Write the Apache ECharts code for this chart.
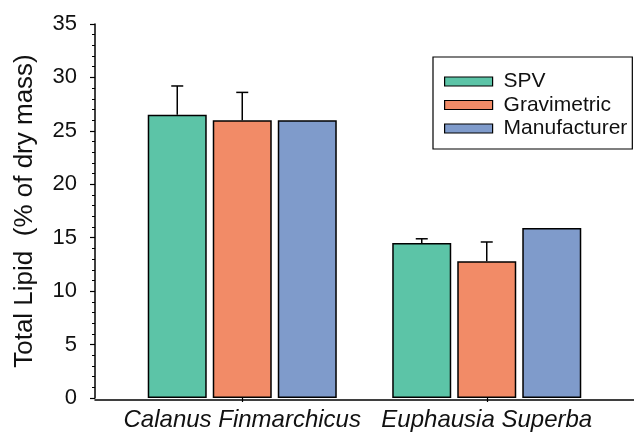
<!DOCTYPE html>
<html>
<head>
<meta charset="utf-8">
<script src="https://cdn.jsdelivr.net/npm/echarts@6/dist/echarts.min.js"></script>
<style>
html,body{margin:0;padding:0;background:#fff;}
#chart{width:634px;height:432px;}
</style>
</head>
<body>
<div id="chart"></div>
<script>
// ---- data ----
const categories = ['Calanus Finmarchicus', 'Euphausia Superba'];
const seriesNames = ['SPV', 'Gravimetric', 'Manufacturer'];
const spvValues = [26.5, 14.5];
const gravValues = [26.0, 12.8];
const manufValues = [26.0, 15.9];
const spvErrors = [2.7, 0.4];
const gravErrors = [2.6, 1.8];
const manufErrors = [null, null];
const yTicks = [0, 5, 10, 15, 20, 25, 30, 35];

// ---- styles ----
const FONT = '"Liberation Sans", Arial, Helvetica, sans-serif';
const colors = ['#5cc4a7', '#f28b67', '#7f9bcb'];
const BAR_W = 59;
const BAR_GAP_PX = 6;

const allValues = [spvValues, gravValues, manufValues];
const allErrors = [spvErrors, gravErrors, manufErrors];

const errData = [];
allValues.forEach((vals, s) => {
  vals.forEach((v, c) => {
    const e = allErrors[s][c];
    if (e != null) errData.push([c, v, v + e, s]);
  });
});

const chart = echarts.init(document.getElementById('chart'), null, {renderer: 'canvas'});

const option = {
  animation: false,
  backgroundColor: '#fff',
  textStyle: {fontFamily: FONT},
  grid: [
    {left: 120, right: 25, top: 24, bottom: 32, containLabel: false},
    {left: 95, right: 0, top: 24, bottom: 32, containLabel: false}
  ],
  xAxis: [
    {
      type: 'category',
      gridIndex: 0,
      data: categories,
      axisLine: {show: false},
      axisTick: {show: true, alignWithLabel: true, length: 4, lineStyle: {color: '#000', width: 1.2}},
      axisLabel: {
        interval: 0, hideOverlap: false,
        color: '#111', fontSize: 24, fontStyle: 'italic', fontFamily: FONT, margin: 10
      },
      splitLine: {show: false}
    },
    {
      type: 'value',
      gridIndex: 1,
      min: 0, max: 1,
      axisLine: {show: true, lineStyle: {color: '#000', width: 1.5}},
      axisTick: {show: false},
      axisLabel: {show: false},
      splitLine: {show: false}
    }
  ],
  yAxis: [
    {
      type: 'value',
      gridIndex: 0,
      min: yTicks[0],
      max: yTicks[yTicks.length - 1],
      interval: 5,
      offset: 25,
      name: 'Total Lipid  (% of dry mass)',
      nameLocation: 'middle',
      nameGap: 57,
      nameTextStyle: {color: '#111', fontSize: 26, fontFamily: FONT},
      axisLine: {show: true, lineStyle: {color: '#000', width: 1.5}},
      axisTick: {show: true, inside: false, length: 5, lineStyle: {color: '#000', width: 1.2}},
      minorTick: {show: true, splitNumber: 5, length: 3, lineStyle: {color: '#000', width: 1}},
      axisLabel: {color: '#111', fontSize: 22, fontFamily: FONT, margin: 18},
      splitLine: {show: false},
      minorSplitLine: {show: false}
    },
    {
      type: 'value',
      gridIndex: 1,
      min: 0, max: 1,
      show: false
    }
  ],
  legend: {
    orient: 'vertical',
    left: 433,
    top: 57,
    padding: [14, 5, 10, 11],
    itemGap: 2.5,
    itemWidth: 48,
    itemHeight: 9,
    borderColor: '#000',
    borderWidth: 1.2,
    borderRadius: 0,
    backgroundColor: '#fff',
    icon: 'rect',
    data: seriesNames,
    textStyle: {color: '#111', fontSize: 21, fontFamily: FONT, padding: [0, 0, 0, 6]},
    itemStyle: {borderColor: '#000', borderWidth: 1.2}
  },
  series: [
    ...seriesNames.map((name, s) => ({
      type: 'bar',
      name: name,
      xAxisIndex: 0,
      yAxisIndex: 0,
      data: allValues[s],
      barWidth: BAR_W,
      barGap: (BAR_GAP_PX / BAR_W * 100).toFixed(1) + '%',
      itemStyle: {color: colors[s], borderColor: '#000', borderWidth: 1.5},
      z: 2
    })),
    {
      type: 'custom',
      name: 'errors',
      xAxisIndex: 0,
      yAxisIndex: 0,
      data: errData,
      z: 3,
      renderItem: function (params, api) {
        const c = api.value(0);
        const v = api.value(1);
        const top = api.value(2);
        const s = api.value(3);
        const base = api.coord([c, v]);
        const hi = api.coord([c, top]);
        const x = base[0] + (s - 1) * (BAR_W + BAR_GAP_PX);
        const cap = 6;
        const st = {stroke: '#000', lineWidth: 1.5, fill: null};
        return {
          type: 'group',
          children: [
            {type: 'line', shape: {x1: x, y1: base[1], x2: x, y2: hi[1]}, style: st},
            {type: 'line', shape: {x1: x - cap, y1: hi[1], x2: x + cap, y2: hi[1]}, style: st}
          ]
        };
      }
    }
  ]
};

chart.setOption(option);
</script>
</body>
</html>
